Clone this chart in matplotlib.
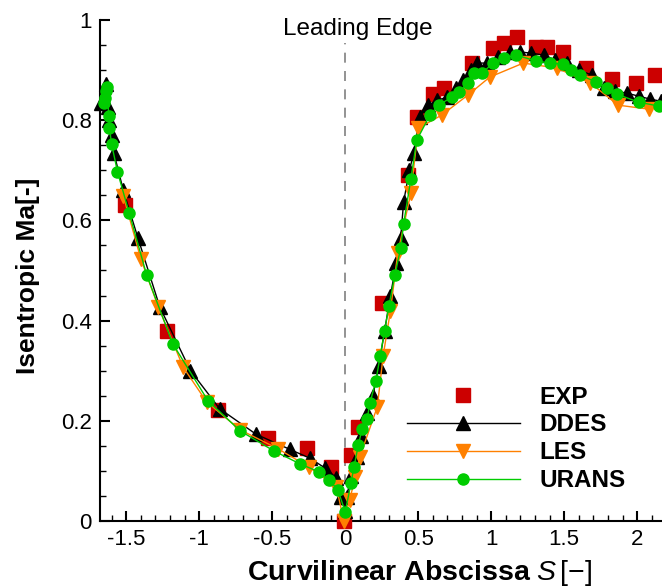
import matplotlib
matplotlib.use("Agg")
import matplotlib.pyplot as plt
from matplotlib.ticker import MultipleLocator

plt.rcParams["font.family"] = ["Liberation Sans", "DejaVu Sans"]
plt.rcParams["mathtext.fontset"] = "custom"
plt.rcParams["mathtext.rm"] = "Liberation Sans"
plt.rcParams["mathtext.it"] = "Liberation Sans:italic"

# Experimental data
exp_s = [-1.51, -1.22, -0.87, -0.53, -0.26, -0.10, -0.01, 0.04, 0.09, 0.25, 0.43, 0.49,
         0.60, 0.68, 0.87, 1.01, 1.09, 1.18, 1.31, 1.38, 1.49, 1.65, 1.83, 1.99, 2.12]
exp_ma = [0.63, 0.38, 0.222, 0.166, 0.145, 0.108, 0.0, 0.132, 0.187, 0.435, 0.69, 0.806,
          0.853, 0.864, 0.914, 0.944, 0.954, 0.966, 0.946, 0.946, 0.936, 0.904, 0.882, 0.874, 0.89]

# DDES
ddes_s = [-1.67, -1.64, -1.625, -1.615, -1.60, -1.585, -1.52, -1.42, -1.27, -1.06, -0.86,
          -0.61, -0.38, -0.24, -0.14, -0.06, -0.03, 0.0, 0.01, 0.04, 0.08, 0.11, 0.15, 0.19,
          0.23, 0.27, 0.31, 0.35, 0.38, 0.40, 0.44, 0.47, 0.51, 0.57, 0.63, 0.70, 0.76, 0.81,
          0.86, 0.90, 0.97, 1.05, 1.13, 1.20, 1.27, 1.36, 1.44, 1.52, 1.60, 1.69, 1.77, 1.85,
          1.93, 2.01, 2.09, 2.16]
ddes_ma = [0.834, 0.872, 0.826, 0.80, 0.77, 0.735, 0.66, 0.565, 0.427, 0.30, 0.224,
           0.173, 0.143, 0.125, 0.106, 0.086, 0.048, 0.02, 0.048, 0.09, 0.128, 0.17, 0.216, 0.25,
           0.31, 0.38, 0.45, 0.515, 0.565, 0.637, 0.70, 0.735, 0.806, 0.83, 0.84, 0.846, 0.865, 0.88,
           0.90, 0.914, 0.914, 0.926, 0.936, 0.936, 0.934, 0.93, 0.92, 0.914, 0.90, 0.89, 0.864, 0.858,
           0.854, 0.848, 0.842, 0.838]

# LES
les_s = [-1.52, -1.40, -1.28, -1.11, -0.95, -0.72, -0.46, -0.25, -0.06, -0.01, 0.03, 0.07,
         0.10, 0.22, 0.26, 0.31, 0.36, 0.45, 0.50, 0.66, 0.84, 0.99, 1.22, 1.45, 1.68, 1.87, 2.08]
les_ma = [0.649, 0.523, 0.427, 0.307, 0.238, 0.182, 0.144, 0.108, 0.068, 0.0, 0.042, 0.088,
          0.128, 0.228, 0.33, 0.42, 0.535, 0.655, 0.784, 0.81, 0.85, 0.886, 0.914, 0.904, 0.874,
          0.830, 0.822]

# URANS
urans_s = [-1.65, -1.643, -1.636, -1.63, -1.62, -1.615, -1.60, -1.56, -1.48, -1.36, -1.18,
           -0.94, -0.72, -0.49, -0.31, -0.18, -0.11, -0.05, 0.0, 0.04, 0.06, 0.09, 0.116, 0.15,
           0.17, 0.21, 0.24, 0.27, 0.30, 0.34, 0.38, 0.40, 0.45, 0.49, 0.58, 0.64, 0.73, 0.78,
           0.84, 0.88, 0.94, 1.01, 1.09, 1.17, 1.31, 1.40, 1.49, 1.55, 1.61, 1.72, 1.79, 1.86,
           2.01, 2.15]
urans_ma = [0.834, 0.844, 0.858, 0.866, 0.808, 0.784, 0.752, 0.697, 0.615, 0.491, 0.353,
            0.240, 0.180, 0.140, 0.114, 0.098, 0.082, 0.062, 0.018, 0.076, 0.108, 0.152, 0.184, 0.204,
            0.236, 0.28, 0.33, 0.38, 0.43, 0.49, 0.545, 0.593, 0.683, 0.76, 0.81, 0.83, 0.846, 0.856,
            0.874, 0.894, 0.894, 0.914, 0.924, 0.930, 0.918, 0.914, 0.912, 0.900, 0.890, 0.876, 0.864,
            0.852, 0.836, 0.828]

fig = plt.figure(figsize=(6.62, 5.88), dpi=100)
ax = fig.add_axes([0.151, 0.114, 0.849, 0.852])

ax.plot(exp_s, exp_ma, linestyle="none", marker="s", ms=10, color="#cc0000",
        label="EXP", clip_on=False, zorder=3)
ax.plot(ddes_s, ddes_ma, "-", color="black", lw=1, marker="^", ms=10,
        label="DDES", clip_on=False, zorder=4)
ax.plot(les_s, les_ma, "-", color="#ff8000", lw=1, marker="v", ms=10,
        label="LES", clip_on=False, zorder=5)
ax.plot(urans_s, urans_ma, "-", color="#00cc00", lw=1, marker="o", ms=8,
        label="URANS", clip_on=False, zorder=6)

ax.axvline(0, ymin=0, ymax=0.955, color="gray", ls=(0, (6, 5)), lw=1.2, zorder=1)
ax.text(0.089, 0.970, "Leading Edge", ha="center", va="baseline", fontsize=17.5)

ax.set_xlim(-1.68, 2.17)
ax.set_ylim(0, 1)
ax.spines["top"].set_visible(False)
ax.spines["right"].set_visible(False)
ax.spines["left"].set_linewidth(1.5)
ax.spines["bottom"].set_linewidth(1.5)

ax.xaxis.set_major_locator(MultipleLocator(0.5))
ax.xaxis.set_minor_locator(MultipleLocator(0.1))
ax.yaxis.set_major_locator(MultipleLocator(0.2))
ax.yaxis.set_minor_locator(MultipleLocator(0.05))
ax.tick_params(which="major", direction="in", length=7, width=1.5, labelsize=16, pad=6)
ax.tick_params(which="minor", direction="in", length=4, width=1)
ax.set_xticks([-1.5, -1, -0.5, 0, 0.5, 1, 1.5, 2])
ax.set_xticklabels(["-1.5", "-1", "-0.5", "0", "0.5", "1", "1.5", "2"])
ax.set_yticks([0, 0.2, 0.4, 0.6, 0.8, 1])
ax.set_yticklabels(["0", "0.2", "0.4", "0.6", "0.8", "1"])

ax.set_ylabel("Isentropic Ma[-]", fontsize=19, fontweight="bold")
ax.yaxis.set_label_coords(-0.1157, 0.489)
ax.yaxis.label.set_va("baseline")
ax.set_xlabel(r"Curvilinear Abscissa $S\,[-]$", fontsize=20.5, fontweight="bold")
ax.xaxis.set_label_coords(0.569, -0.118)
ax.xaxis.label.set_va("baseline")

leg = ax.legend(loc="center left", bbox_to_anchor=(0.546, 0.164), frameon=False,
                prop={"weight": "bold", "size": 17.5}, handlelength=4.65, handletextpad=0.82,
                labelspacing=0.2, borderpad=0, borderaxespad=0)

fig.savefig("out.png", dpi=100)
